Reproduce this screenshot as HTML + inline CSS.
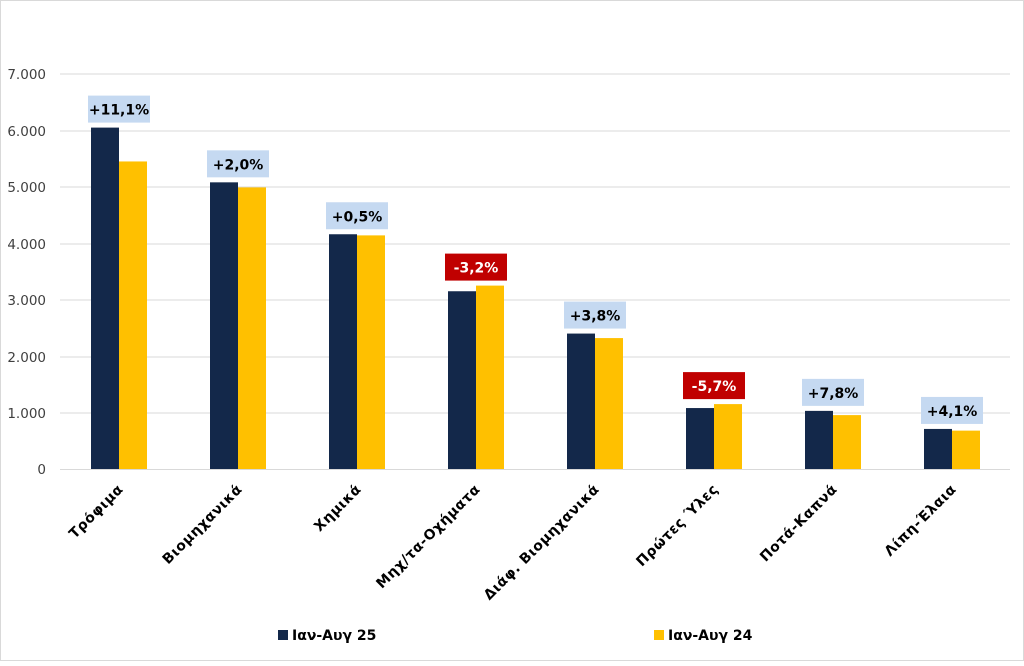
<!DOCTYPE html>
<html><head><meta charset="utf-8"><style>
body{margin:0;background:#fff;}
svg text{font-family:"DejaVu Sans","Liberation Sans",sans-serif;}
</style></head><body>
<svg width="1024" height="661" viewBox="0 0 1024 661" xmlns="http://www.w3.org/2000/svg">
<rect x="0.5" y="0.5" width="1023" height="660" fill="#fff" stroke="#d9d9d9"/>
<g stroke="#d9d9d9" stroke-width="1">
<line x1="60" x2="1010" y1="74" y2="74"/><line x1="60" x2="1010" y1="131" y2="131"/>
<line x1="60" x2="1010" y1="187" y2="187"/><line x1="60" x2="1010" y1="244" y2="244"/>
<line x1="60" x2="1010" y1="300" y2="300"/><line x1="60" x2="1010" y1="357" y2="357"/>
<line x1="60" x2="1010" y1="413" y2="413"/><line x1="60" x2="1010" y1="469.5" y2="469.5"/>
</g>
<g font-size="13.5" fill="#404040" text-anchor="end">
<text x="46" y="79">7.000</text><text x="46" y="136">6.000</text><text x="46" y="192">5.000</text>
<text x="46" y="249">4.000</text><text x="46" y="305">3.000</text><text x="46" y="362">2.000</text>
<text x="46" y="418">1.000</text><text x="46" y="474">0</text>
</g>
<g id="bars"></g>
<g font-size="14" font-weight="bold" fill="#000" letter-spacing="0.6">
<g transform="translate(124,490) rotate(-45)"><text text-anchor="end">Τρόφιμα</text></g>
<g transform="translate(243,490) rotate(-45)"><text text-anchor="end">Βιομηχανικά</text></g>
<g transform="translate(362,490) rotate(-45)"><text text-anchor="end">Χημικά</text></g>
<g transform="translate(481,490) rotate(-45)"><text text-anchor="end">Μηχ/τα-Οχήματα</text></g>
<g transform="translate(600,490) rotate(-45)"><text text-anchor="end">Διάφ. Βιομηχανικά</text></g>
<g transform="translate(719,490) rotate(-45)"><text text-anchor="end">Πρώτες Ύλες</text></g>
<g transform="translate(838,490) rotate(-45)"><text text-anchor="end">Ποτά-Καπνά</text></g>
<g transform="translate(957,490) rotate(-45)"><text text-anchor="end">Λίπη-Έλαια</text></g>
</g>
<rect x="278" y="630" width="10" height="10" fill="#13284a"/>
<text x="292" y="640" font-size="14" font-weight="bold" fill="#000">Ιαν-Αυγ 25</text>
<rect x="654" y="630" width="10" height="10" fill="#ffc000"/>
<text x="668" y="640" font-size="14" font-weight="bold" fill="#000">Ιαν-Αυγ 24</text>
</svg>
<script>
var d=[[119,6050,5450,"+11,1%",0],[238,5080,4990,"+2,0%",0],[357,4160,4140,"+0,5%",0],[476,3150,3250,"-3,2%",1],[595,2400,2320,"+3,8%",0],[714,1080,1150,"-5,7%",1],[833,1030,955,"+7,8%",0],[952,710,680,"+4,1%",0]];
var s="",k=56.43,b=469;
d.forEach(function(r){var c=r[0],h1=r[1]*k/1000,h2=r[2]*k/1000;
s+='<rect x="'+(c-28)+'" y="'+(b-h1)+'" width="28" height="'+h1+'" fill="#13284a"/>';
s+='<rect x="'+c+'" y="'+(b-h2)+'" width="28" height="'+h2+'" fill="#ffc000"/>';
var top=b-Math.max(h1,h2)-32;
s+='<rect x="'+(c-31)+'" y="'+top+'" width="62" height="27" fill="'+(r[4]?'#c00000':'#c5d9f1')+'"/>';
s+='<text x="'+c+'" y="'+(top+19)+'" text-anchor="middle" font-size="14" font-weight="bold" fill="'+(r[4]?'#fff':'#000')+'">'+r[3]+'</text>';});
document.getElementById("bars").innerHTML=s;
</script>
</body></html>
